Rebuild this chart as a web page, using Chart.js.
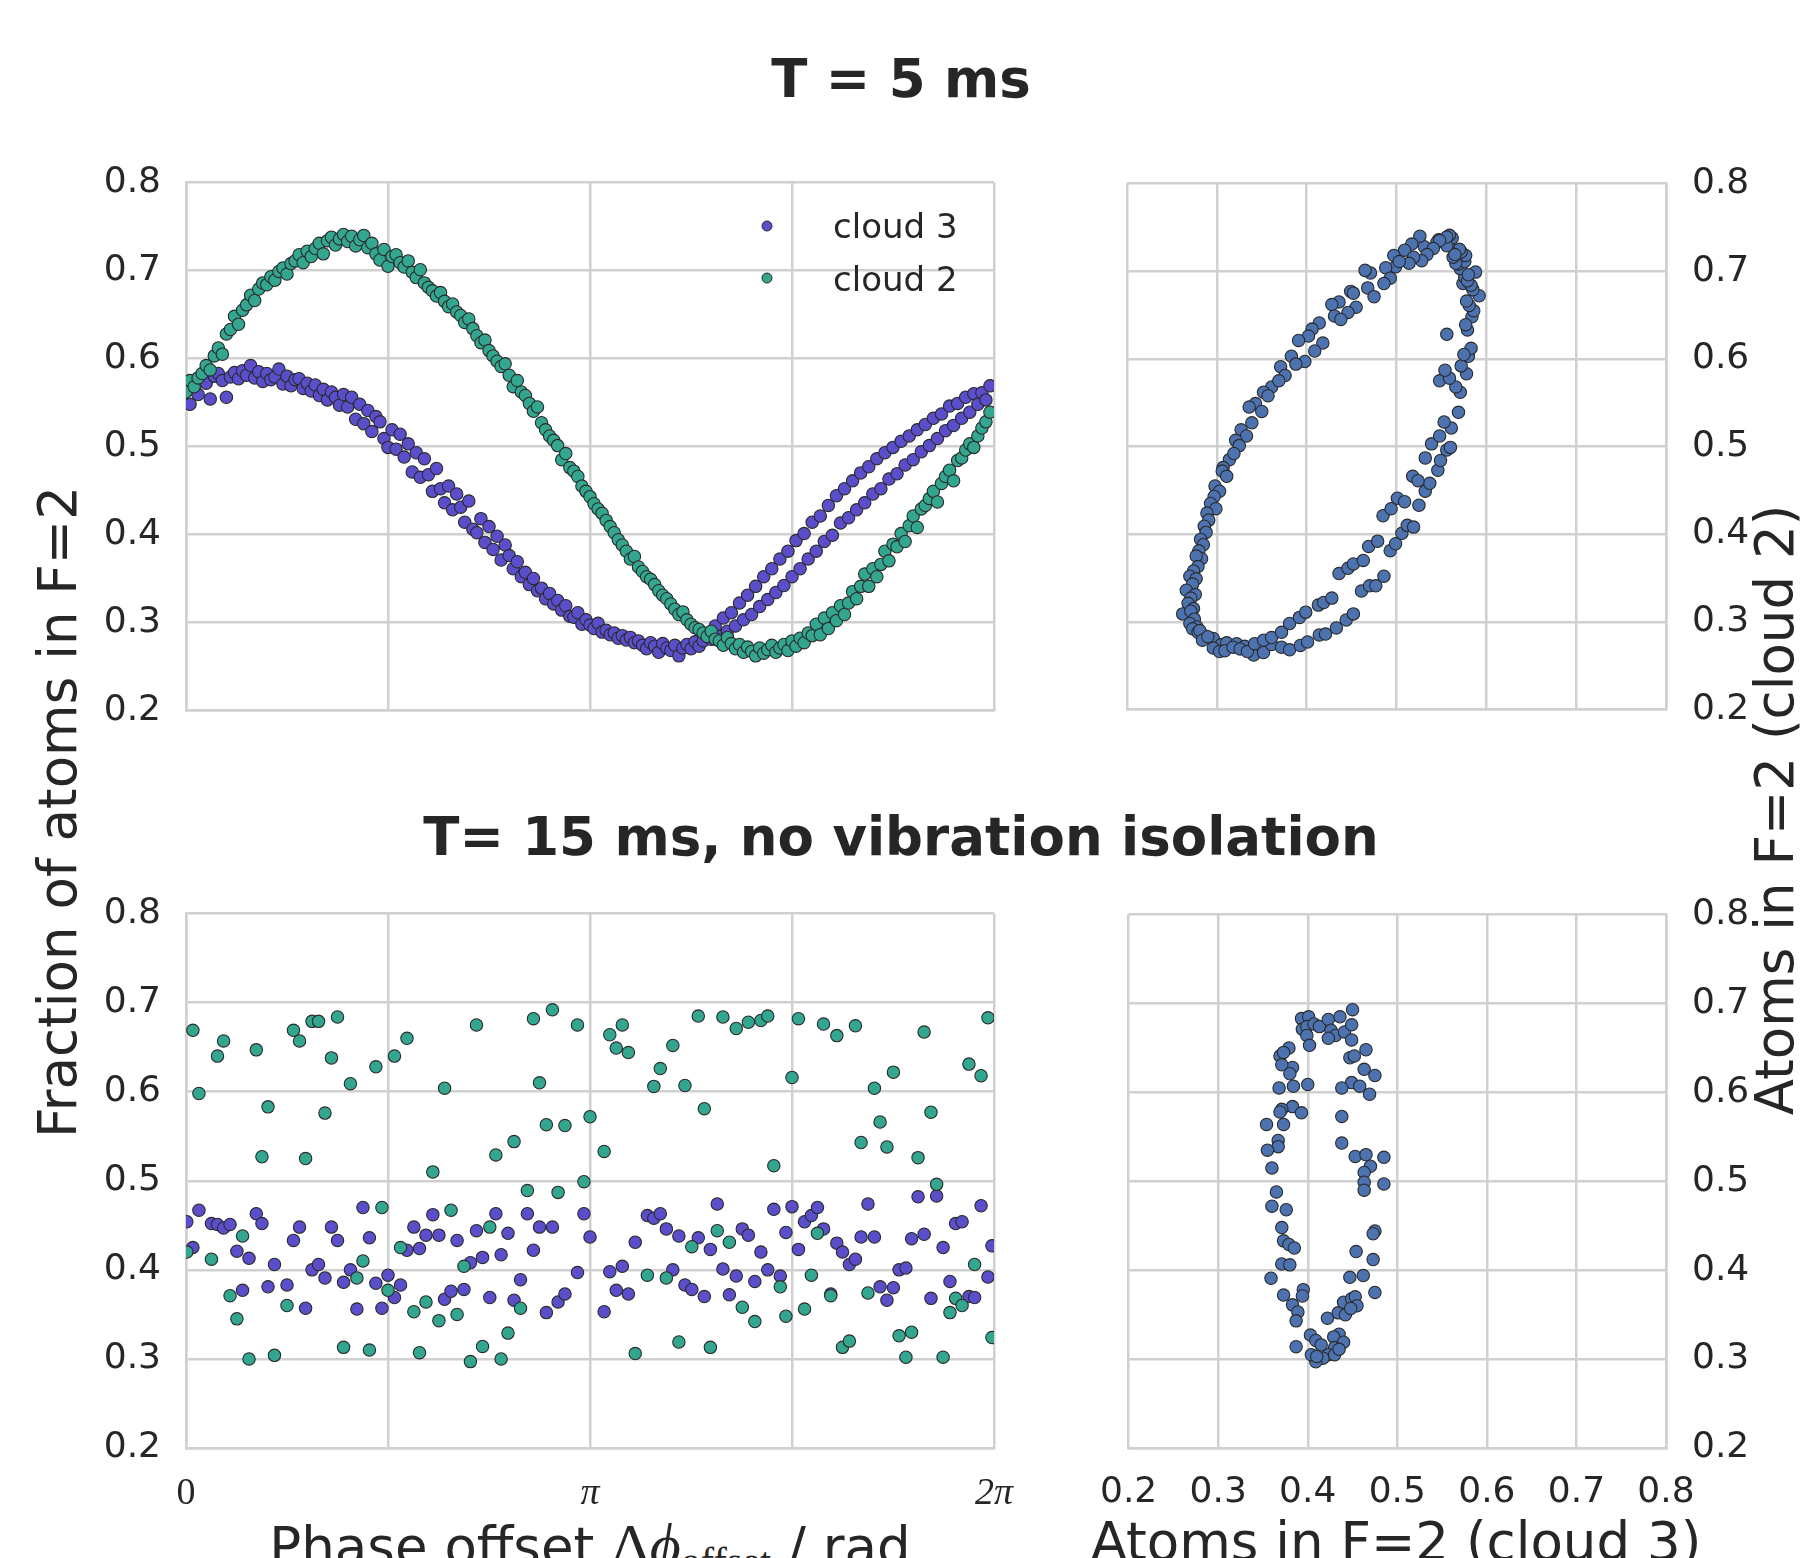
<!DOCTYPE html>
<html>
<head>
<meta charset="utf-8">
<script src="https://cdn.jsdelivr.net/npm/chart.js@4.4.1/dist/chart.umd.min.js"></script>
<style>
  html, body { margin: 0; padding: 0; background: #fff; }
  body { width: 1801px; height: 1558px; position: relative; overflow: hidden;
         font-family: "DejaVu Sans", sans-serif; color: #262626; }
  canvas { position: absolute; }
  .txt { position: absolute; white-space: nowrap; line-height: 1; }
  .title { font-size: 53px; font-weight: bold; transform: translateX(-50%); }
  .lab { font-size: 53px; }
  .rot { transform: translate(-50%, -50%) rotate(-90deg); }
  .ctr { transform: translateX(-50%); }
  .m { font-family: "Liberation Serif", serif; font-size: 60px; }
  .m sub { font-size: 40px; vertical-align: -10px; font-style: normal; }
  .leg { font-size: 34px; }
  .dot { position: absolute; width: 9px; height: 9px; border-radius: 50%;
         border: 1px solid #2a2a2a; transform: translate(-50%, -50%); }
</style>
</head>
<body>

<div class="txt title" style="left:901px; top:52px;">T = 5 ms</div>
<div class="txt title" style="left:901px; top:810px;">T= 15 ms, no vibration isolation</div>

<div class="txt lab rot" style="left:57px; top:812px;">Fraction of atoms in F=2</div>
<div class="txt lab rot" style="left:1774px; top:810px;">Atoms in F=2 (cloud 2)</div>

<div class="txt lab ctr" style="left:590px; top:1515px;">Phase offset <span class="m">Δ<i>ϕ</i><sub>offset</sub></span> / rad</div>
<div class="txt lab ctr" style="left:1396px; top:1515px;">Atoms in F=2 (cloud 3)</div>

<canvas id="tl"></canvas>
<canvas id="tr"></canvas>
<canvas id="bl"></canvas>
<canvas id="br"></canvas>

<div class="dot" style="left:767px; top:226px; background:#5b4ecb;"></div>
<div class="dot" style="left:767px; top:278px; background:#33a690;"></div>
<div class="txt leg" style="left:833px; top:209px;">cloud 3</div>
<div class="txt leg" style="left:833px; top:262px;">cloud 2</div>

<script>
// ---- T = 5 ms : fraction in F=2 per phase step (evenly spaced over 0..2pi) ----
const cloud3_5ms = [
  .571,.548,.566,.559, .578,.572,.554,.580, .583,.575,.556,.579, .584,.577,.586,.581,
  .592,.578,.585,.574, .583,.576,.579,.588, .571,.580,.569,.576, .577,.566,.572,.563,
  .570,.558,.565,.553, .562,.556,.547,.559, .545,.556,.531,.548, .526,.541,.517,.534,
  .528,.509,.499,.519, .497,.514,.488,.503, .471,.493,.465,.486, .468,.449,.475,.452,
  .436,.455,.428,.446, .431,.414,.438,.406, .402,.418,.391,.409, .383,.398,.371,.388,
  .376,.361,.369,.352, .357,.343,.350,.336, .339,.327,.333,.321, .325,.314,.319,.307,
  .306,.311,.298,.303, .297,.293,.299,.289, .291,.286,.288,.282, .285,.280,.283,.277,
  .279,.274,.270,.277, .273,.266,.276,.271, .268,.274,.262,.271, .275,.270,.278,.273,
  .279,.286,.281,.296, .284,.305,.290,.311, .296,.322,.303,.331, .309,.341,.318,.352,
  .326,.361,.334,.372, .342,.381,.352,.393, .361,.401,.372,.414, .381,.421,.392,.433,
  .399,.444,.413,.452, .419,.461,.428,.470, .436,.477,.446,.486, .452,.493,.463,.499,
  .469,.506,.479,.512, .485,.519,.494,.525, .501,.532,.509,.537, .518,.546,.524,.549,
  .532,.556,.539,.560, .548,.561,.553,.569
];
const cloud2_5ms = [
  .562,.575,.568,.578, .583,.592,.587,.603, .612,.605,.628,.633, .648,.639,.655,.661,
  .672,.666,.679,.686, .684,.693,.689,.699, .703,.696,.708,.711, .718,.709,.722,.716,
  .725,.731,.719,.734, .738,.729,.736,.741, .733,.739,.728,.735, .740,.726,.731,.719,
  .712,.724,.705,.716, .718,.709,.704,.711, .698,.692,.701,.686, .681,.677,.671,.675,
  .665,.659,.662,.653, .649,.641,.645,.634, .626,.618,.621,.609, .603,.597,.591,.594,
  .581,.568,.575,.562, .558,.549,.540,.545, .527,.519,.512,.507, .501,.485,.492,.476,
  .472,.466,.455,.449, .443,.435,.429,.424, .416,.409,.402,.394, .388,.381,.372,.375,
  .363,.358,.352,.349, .343,.336,.331,.327, .321,.315,.309,.312, .303,.298,.294,.292,
  .288,.284,.290,.281, .279,.274,.283,.276, .270,.275,.266,.272, .267,.262,.271,.265,
  .269,.274,.266,.271, .275,.268,.279,.273, .282,.277,.288,.285, .298,.286,.305,.293,
  .311,.302,.319,.309, .322,.335,.327,.341, .355,.341,.361,.352, .366,.381,.370,.389,
  .386,.401,.392,.410, .421,.408,.429,.433, .441,.449,.437,.458, .466,.473,.461,.484,
  .487,.496,.503,.499, .512,.521,.528,.539
];

// ---- T = 15 ms : phase (in units of pi) and fractions ----
const phase_15ms = [
  .002,.017,.032,.063,.078,.093,.109,.126,.140,.156,.174,.188,.203,.219,.250,.266,
  .281,.296,.312,.328,.344,.360,.375,.390,.407,.423,.438,.454,.470,.485,.500,.516,
  .531,.547,.564,.578,.594,.611,.626,.640,.656,.671,.688,.704,.719,.734,.752,.767,
  .780,.797,.812,.828,.845,.860,.875,.892,.907,.921,.938,.969,.985,1.000,
  1.035,1.049,1.065,1.080,1.095,1.112,1.142,1.158,1.174,1.189,1.205,1.220,1.235,1.252,
  1.268,1.283,1.298,1.315,1.329,1.345,1.362,1.377,1.392,1.408,1.423,1.440,1.455,1.471,
  1.485,1.500,1.516,1.531,1.548,1.563,1.578,1.596,1.611,1.625,1.642,1.657,1.671,1.688,
  1.704,1.718,1.735,1.751,1.765,1.782,1.796,1.812,1.827,1.844,1.858,1.874,1.891,1.905,
  1.921,1.938,1.952,1.968,1.985,1.995
];
const cloud3_15ms = [
  .454,.425,.467,.452,.451,.447,.451,.421,.377,.413,.463,.452,.381,.406,.383,.433,
  .448,.357,.400,.406,.391,.448,.433,.386,.400,.356,.470,.436,.385,.357,.394,.369,
  .383,.422,.448,.424,.439,.462,.439,.367,.376,.433,.378,.408,.444,.414,.369,.463,
  .417,.441,.366,.389,.463,.422,.448,.352,.448,.364,.373,.397,.463,.437,
  .353,.398,.377,.404,.373,.431,.461,.458,.463,.446,.400,.438,.383,.378,
  .436,.370,.423,.474,.401,.372,.393,.446,.439,.387,.420,.400,.468,.393,
  .442,.471,.423,.454,.461,.470,.446,.373,.430,.420,.406,.412,.437,.474,
  .437,.381,.366,.380,.400,.402,.435,.482,.440,.368,.483,.425,.387,.452,
  .454,.370,.369,.472,.392,.427
];
const cloud2_15ms = [
  .420,.669,.598,.412,.640,.657,.371,.345,.438,.300,.647,.527,.583,.304,.360,.669,
  .657,.525,.679,.679,.576,.638,.684,.313,.609,.391,.410,.310,.628,.470,.377,.640,
  .425,.660,.353,.307,.364,.510,.343,.604,.467,.350,.404,.297,.675,.314,.448,.529,
  .300,.329,.544,.357,.489,.682,.610,.563,.692,.487,.562,.675,.499,.572,
  .533,.664,.649,.675,.644,.306,.394,.606,.626,.391,.652,.319,.607,.426,
  .685,.581,.313,.444,.684,.431,.671,.358,.678,.342,.680,.685,.517,.381,
  .348,.616,.682,.356,.394,.441,.676,.371,.663,.313,.320,.674,.543,.374,
  .604,.566,.538,.622,.326,.302,.330,.526,.667,.577,.496,.302,.352,.368,
  .360,.631,.406,.618,.683,.324
];

// ---- T = 15 ms : cloud 3 vs cloud 2 ----
const corrX_15ms = [
  .393,.401,.394,.399,.407,.413,.423,.436,.426,.431,.441,.449,.450,.423,.449,.399,
  .402,.379,.369,.373,.383,.371,.380,.400,.384,.368,.447,.452,.465,.463,.475,.449,
  .458,.438,.469,.383,.371,.393,.369,.373,.354,.438,.367,.367,.355,.438,.453,.465,
  .485,.470,.463,.463,.485,.463,.360,.365,.360,.376,.371,.373,.379,.385,.371,.380,
  .359,.454,.473,.475,.473,.462,.447,.475,.373,.395,.394,.383,.389,.387,.387,.403,
  .409,.415,.422,.434,.442,.440,.449,.453,.455,.448,.435,.429,.440,.430,.423,.417,
  .409,.404,.410,.430,.435
];
const corrY_15ms = [
  .683,.685,.671,.674,.677,.674,.682,.685,.670,.664,.668,.676,.693,.661,.659,.664,
  .653,.650,.641,.645,.628,.631,.621,.609,.607,.605,.639,.641,.648,.626,.619,.611,
  .607,.605,.598,.584,.581,.577,.578,.564,.564,.573,.546,.539,.535,.543,.528,.530,
  .527,.517,.510,.499,.497,.490,.515,.488,.472,.468,.448,.433,.429,.425,.407,.406,
  .391,.421,.412,.444,.441,.394,.392,.375,.372,.378,.371,.361,.353,.343,.314,.327,
  .321,.316,.346,.352,.350,.364,.368,.370,.360,.357,.328,.325,.319,.313,.305,.301,
  .297,.305,.303,.305,.311
];

const Y_MIN = 0.2, Y_MAX = 0.8;
const PHASE_LABELS = { 0: "0", 1: "π", 2: "2π" };

const C3 = "#5b4ecb", C2 = "#33a690", CORR = "#4c72b0";
const EDGE = "#2a2a2a";
const GRID = "#d0d0d0";
const TICK_FONT = { family: "DejaVu Sans", size: 36 };

const AXIS_W = 110, SIDE = 50, TOP = 40;

function dots(label, pts, color, order) {
  return {
    label, data: pts, order, clip: 0,
    pointRadius: 6.2, pointHoverRadius: 6.2, pointBorderWidth: 1.1,
    pointBackgroundColor: color, pointBorderColor: EDGE
  };
}

function panel(id, area, datasets, o) {
  const cv = document.getElementById(id);
  const left = o.yPos === "left" ? AXIS_W : SIDE;
  const right = o.yPos === "right" ? AXIS_W : SIDE;
  const bottom = o.xLabels ? 90 : 40;
  cv.width = area.r - area.l + left + right;
  cv.height = area.b - area.t + TOP + bottom;
  cv.style.left = (area.l - left) + "px";
  cv.style.top = (area.t - TOP) + "px";

  return new Chart(cv, {
    type: "scatter",
    data: { datasets },
    options: {
      responsive: false, animation: false, devicePixelRatio: 1,
      layout: { padding: { left: o.yPos === "left" ? 0 : SIDE, right: o.yPos === "right" ? 0 : SIDE, top: TOP, bottom: 0 } },
      plugins: { legend: { display: false }, tooltip: { enabled: false } },
      scales: {
        x: {
          type: "linear", min: o.xMin, max: o.xMax, position: "bottom",
          afterFit: s => { s.height = bottom; },
          grid: { color: GRID, lineWidth: 2.5, drawTicks: false },
          border: { color: GRID, width: 2.5 },
          ticks: {
            display: o.xLabels, stepSize: o.xStep, autoSkip: false, maxRotation: 0, minRotation: 0,
            padding: 23, color: "#262626",
            font: o.phase
              ? ctx => ({ family: "Liberation Serif", size: 38, style: ctx.tick && ctx.tick.value ? "italic" : "normal" })
              : TICK_FONT,
            callback: o.phase ? v => (PHASE_LABELS[v] !== undefined ? PHASE_LABELS[v] : "") : v => v.toFixed(1)
          }
        },
        y: {
          type: "linear", min: Y_MIN, max: Y_MAX, position: o.yPos,
          afterFit: s => { s.width = AXIS_W; },
          grid: { color: GRID, lineWidth: 2.5, drawTicks: false },
          border: { color: GRID, width: 2.5 },
          ticks: {
            stepSize: 0.1, autoSkip: false, padding: o.yPos === "left" ? 25 : 26,
            color: "#262626", font: TICK_FONT, callback: v => v.toFixed(1)
          }
        }
      }
    }
  });
}

const N5 = cloud3_5ms.length;
const byPhase5 = arr => arr.map((v, i) => ({ x: 2 * i / N5, y: v }));
const byPhase15 = arr => arr.map((v, i) => ({ x: phase_15ms[i], y: v }));

panel("tl", { l: 186, t: 176, r: 994, b: 717 }, [
  dots("cloud 3", byPhase5(cloud3_5ms), C3, 2),
  dots("cloud 2", byPhase5(cloud2_5ms), C2, 1)
], { yPos: "left", xLabels: false, xMin: 0, xMax: 2, xStep: 0.5, phase: true });

panel("tr", { l: 1127, t: 176, r: 1666, b: 717 }, [
  dots("cloud 3 vs cloud 2", cloud3_5ms.map((v, i) => ({ x: v, y: cloud2_5ms[i] })), CORR, 1)
], { yPos: "right", xLabels: false, xMin: 0.2, xMax: 0.8, xStep: 0.1 });

panel("bl", { l: 186, t: 907, r: 994, b: 1448 }, [
  dots("cloud 3", byPhase15(cloud3_15ms), C3, 2),
  dots("cloud 2", byPhase15(cloud2_15ms), C2, 1)
], { yPos: "left", xLabels: true, xMin: 0, xMax: 2, xStep: 0.5, phase: true });

panel("br", { l: 1127, t: 907, r: 1666, b: 1448 }, [
  dots("cloud 3 vs cloud 2", corrX_15ms.map((v, i) => ({ x: v, y: corrY_15ms[i] })), CORR, 1)
], { yPos: "right", xLabels: true, xMin: 0.2, xMax: 0.8, xStep: 0.1 });
</script>
</body>
</html>
